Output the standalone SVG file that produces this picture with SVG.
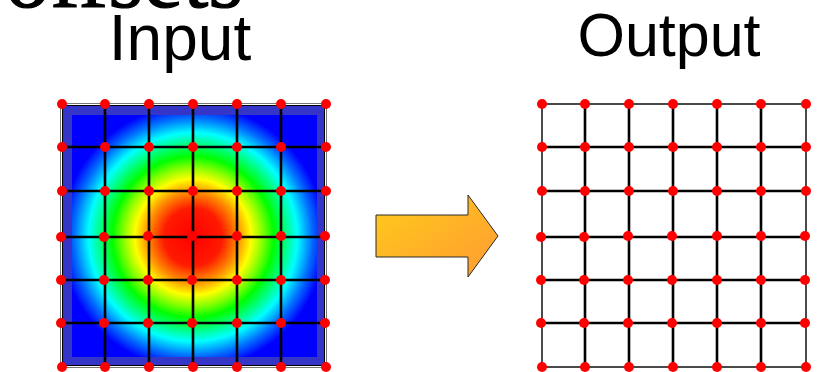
<svg xmlns="http://www.w3.org/2000/svg" width="818" height="372" viewBox="0 0 818 372">
  <style>
    .label { font-family: "Liberation Sans", Arial, sans-serif; fill: #000; text-anchor: middle; }
    .serif { font-family: "Liberation Serif", "DejaVu Serif", "Times New Roman", serif; fill: #000; stroke: #000; stroke-width: 1.2; }
    .grid line { stroke: #000; stroke-width: 2.6; }
    .grid line.edge { stroke: #4a4a4a; stroke-width: 2; }
    .pt { fill: #ff0000; }
  </style>
  <defs>
    <radialGradient id="heat" gradientUnits="userSpaceOnUse" cx="193" cy="237" r="132">
      <stop offset="0" stop-color="#ff0000"/>
      <stop offset="0.22" stop-color="#ff1a00"/>
      <stop offset="0.34" stop-color="#ff8c00"/>
      <stop offset="0.44" stop-color="#ffff00"/>
      <stop offset="0.53" stop-color="#80ff00"/>
      <stop offset="0.61" stop-color="#00ff00"/>
      <stop offset="0.68" stop-color="#00ff60"/>
      <stop offset="0.79" stop-color="#00ffff"/>
      <stop offset="0.90" stop-color="#0070ff"/>
      <stop offset="1" stop-color="#0000ff"/>
    </radialGradient>
    <linearGradient id="arrowFill" x1="0" y1="0" x2="1" y2="1">
      <stop offset="0" stop-color="#ffcc1a"/>
      <stop offset="1" stop-color="#ff9a33"/>
    </linearGradient>
    <circle id="dot" r="5" class="pt"/>
  </defs>

  <rect width="818" height="372" fill="#ffffff"/>

  <!-- headings -->
  <g id="title">
    <text class="serif" x="5" y="7" font-size="90">offsets</text>
  </g>
  <g id="label-input">
    <text class="label" x="180" y="60" font-size="64">Input</text>
  </g>
  <g id="label-output">
    <text class="label" x="669" y="56" font-size="61">Output</text>
  </g>

  <!-- input field: framed heat map -->
  <g id="input-field">
    <rect x="60.5" y="103.5" width="266" height="264" fill="#3535c8" stroke="#777" stroke-width="1"/>
    <rect x="61.5" y="104.5" width="264" height="262" fill="none" stroke="#fff" stroke-width="1"/>
    <rect x="62.5" y="105.5" width="262" height="260" fill="none" stroke="#000" stroke-width="1"/>
    <rect x="72" y="115" width="245" height="242" fill="url(#heat)"/>
  </g>

  <!-- input lattice -->
  <g id="input-grid" class="grid">
    <line x1="62" y1="147" x2="326" y2="147"/>
    <line x1="62" y1="191" x2="326" y2="191"/>
    <line x1="62" y1="237" x2="326" y2="237"/>
    <line x1="62" y1="280" x2="326" y2="280"/>
    <line x1="62" y1="323" x2="326" y2="323"/>
    <line x1="105" y1="104" x2="105" y2="367"/>
    <line x1="149" y1="104" x2="149" y2="367"/>
    <line x1="193" y1="104" x2="193" y2="367"/>
    <line x1="237" y1="104" x2="237" y2="367"/>
    <line x1="281" y1="104" x2="281" y2="367"/>
  </g>
  <g id="input-points">
    <use href="#dot" x="62" y="104"/><use href="#dot" x="105" y="104"/><use href="#dot" x="149" y="104"/><use href="#dot" x="193" y="104"/><use href="#dot" x="237" y="104"/><use href="#dot" x="281" y="104"/><use href="#dot" x="326" y="104"/>
    <use href="#dot" x="62" y="147"/><use href="#dot" x="105" y="147"/><use href="#dot" x="149" y="147"/><use href="#dot" x="193" y="147"/><use href="#dot" x="237" y="147"/><use href="#dot" x="281" y="147"/><use href="#dot" x="326" y="147"/>
    <use href="#dot" x="62" y="191"/><use href="#dot" x="105" y="191"/><use href="#dot" x="149" y="191"/><use href="#dot" x="193" y="191"/><use href="#dot" x="237" y="191"/><use href="#dot" x="281" y="191"/><use href="#dot" x="326" y="191"/>
    <use href="#dot" x="61" y="237"/><use href="#dot" x="104" y="237"/><use href="#dot" x="148" y="236"/><use href="#dot" x="192" y="236"/><use href="#dot" x="237" y="236"/><use href="#dot" x="281" y="236"/><use href="#dot" x="325" y="236"/>
    <use href="#dot" x="61" y="280"/><use href="#dot" x="104" y="280"/><use href="#dot" x="148" y="280"/><use href="#dot" x="192" y="280"/><use href="#dot" x="237" y="280"/><use href="#dot" x="281" y="280"/><use href="#dot" x="325" y="280"/>
    <use href="#dot" x="61" y="323"/><use href="#dot" x="104" y="323"/><use href="#dot" x="148" y="323"/><use href="#dot" x="192" y="323"/><use href="#dot" x="237" y="323"/><use href="#dot" x="281" y="323"/><use href="#dot" x="325" y="323"/>
    <use href="#dot" x="62" y="367"/><use href="#dot" x="105" y="367"/><use href="#dot" x="149" y="367"/><use href="#dot" x="193" y="367"/><use href="#dot" x="237" y="367"/><use href="#dot" x="281" y="367"/><use href="#dot" x="326" y="367"/>
  </g>

  <!-- transform arrow -->
  <g id="arrow">
    <polygon points="376,215 468,215 468,195 498,236 468,277 468,257 376,257" fill="url(#arrowFill)" stroke="#2a2a2a" stroke-width="1"/>
  </g>

  <!-- output lattice -->
  <g id="output-grid" class="grid">
    <line class="edge" x1="542" y1="104" x2="806" y2="104"/>
    <line x1="542" y1="147" x2="806" y2="147"/>
    <line x1="542" y1="191" x2="806" y2="191"/>
    <line x1="541" y1="237" x2="806" y2="237"/>
    <line x1="541" y1="280" x2="806" y2="280"/>
    <line x1="541" y1="323" x2="806" y2="323"/>
    <line class="edge" x1="542" y1="367" x2="806" y2="367"/>
    <line class="edge" x1="542" y1="104" x2="542" y2="367"/>
    <line x1="585" y1="104" x2="585" y2="367"/>
    <line x1="629" y1="104" x2="629" y2="367"/>
    <line x1="673" y1="104" x2="673" y2="367"/>
    <line x1="717" y1="104" x2="717" y2="367"/>
    <line x1="761" y1="104" x2="761" y2="367"/>
    <line class="edge" x1="806" y1="104" x2="806" y2="367"/>
  </g>
  <g id="output-points">
    <use href="#dot" x="542" y="104"/><use href="#dot" x="585" y="104"/><use href="#dot" x="629" y="104"/><use href="#dot" x="673" y="104"/><use href="#dot" x="717" y="104"/><use href="#dot" x="761" y="104"/><use href="#dot" x="806" y="104"/>
    <use href="#dot" x="542" y="147"/><use href="#dot" x="585" y="147"/><use href="#dot" x="629" y="147"/><use href="#dot" x="673" y="147"/><use href="#dot" x="717" y="147"/><use href="#dot" x="761" y="147"/><use href="#dot" x="806" y="147"/>
    <use href="#dot" x="542" y="191"/><use href="#dot" x="585" y="191"/><use href="#dot" x="629" y="191"/><use href="#dot" x="673" y="191"/><use href="#dot" x="717" y="191"/><use href="#dot" x="761" y="191"/><use href="#dot" x="806" y="191"/>
    <use href="#dot" x="541" y="237"/><use href="#dot" x="584" y="237"/><use href="#dot" x="628" y="236"/><use href="#dot" x="672" y="236"/><use href="#dot" x="717" y="236"/><use href="#dot" x="761" y="236"/><use href="#dot" x="805" y="236"/>
    <use href="#dot" x="541" y="280"/><use href="#dot" x="584" y="280"/><use href="#dot" x="628" y="280"/><use href="#dot" x="672" y="280"/><use href="#dot" x="717" y="280"/><use href="#dot" x="761" y="280"/><use href="#dot" x="805" y="280"/>
    <use href="#dot" x="541" y="323"/><use href="#dot" x="584" y="323"/><use href="#dot" x="628" y="323"/><use href="#dot" x="672" y="323"/><use href="#dot" x="717" y="323"/><use href="#dot" x="761" y="323"/><use href="#dot" x="805" y="323"/>
    <use href="#dot" x="542" y="367"/><use href="#dot" x="585" y="367"/><use href="#dot" x="629" y="367"/><use href="#dot" x="673" y="367"/><use href="#dot" x="717" y="367"/><use href="#dot" x="761" y="367"/><use href="#dot" x="806" y="367"/>
  </g>
</svg>
